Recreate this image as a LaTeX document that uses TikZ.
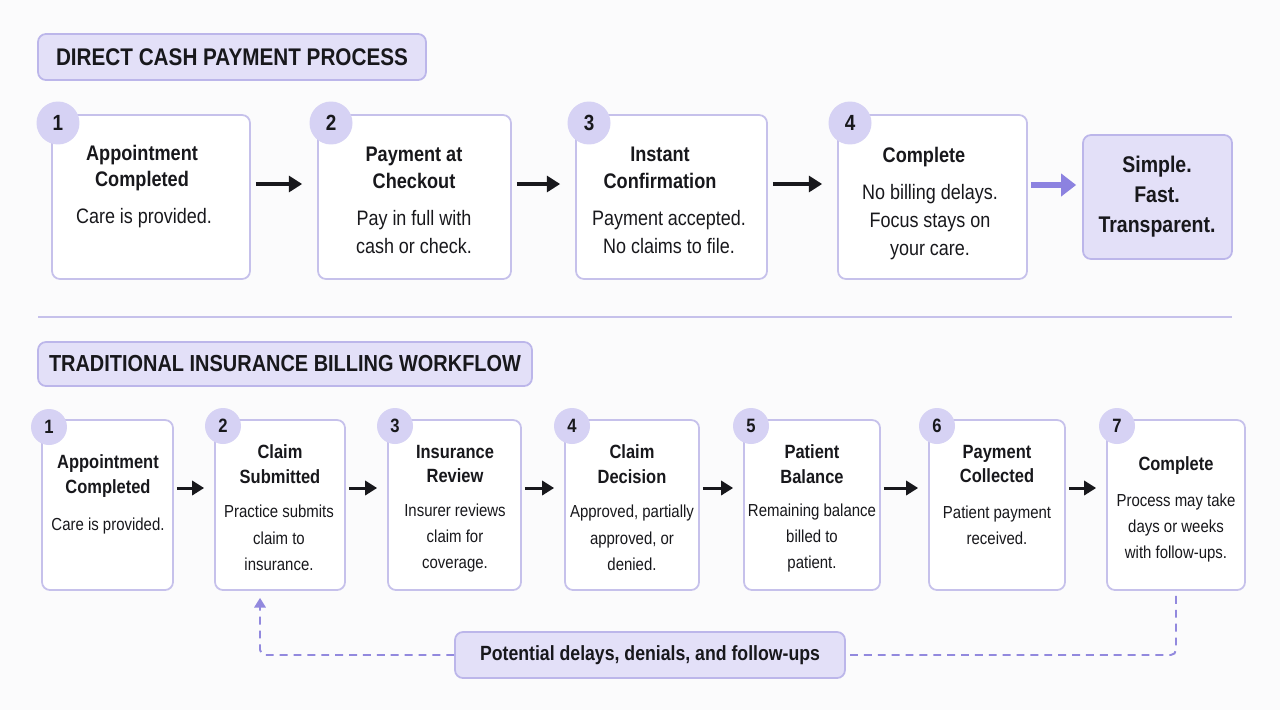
\documentclass[tikz,border=0pt]{standalone}
\usepackage{fontspec}
\setmainfont{Liberation Sans}[FakeStretch=0.86]
\usetikzlibrary{arrows.meta}
\definecolor{boxline}{RGB}{198,193,235}
\definecolor{numfill}{RGB}{214,210,244}
\definecolor{headfill}{RGB}{227,224,248}
\definecolor{headline}{RGB}{188,182,234}
\definecolor{accent}{RGB}{140,130,224}
\definecolor{dashcol}{RGB}{146,137,222}
\definecolor{inkcol}{RGB}{24,24,28}
\definecolor{bgcol}{RGB}{251,251,252}
\begin{document}
\begin{tikzpicture}[x=0.02cm,y=-0.02cm,
	every node/.style={text=inkcol,inner sep=0pt},
	stepbox/.style={draw=boxline,line width=1pt,fill=white,rounded corners=4.5pt},
	headbox/.style={draw=headline,line width=1pt,fill=headfill,rounded corners=4.5pt,
		font=\bfseries\fontsize{13.7}{16}\selectfont},
	bignum/.style={circle,fill=numfill,minimum size=0.86cm,font=\bfseries\fontsize{12.5}{14}\selectfont},
	smallnum/.style={circle,fill=numfill,minimum size=0.72cm,font=\bfseries\fontsize{11}{12}\selectfont},
	bigtitle/.style={align=center,font=\bfseries\fontsize{12}{15.3}\selectfont},
	bigbody/.style={align=center,font=\fontsize{11.9}{15.9}\selectfont},
	smalltitle/.style={align=center,font=\bfseries\fontsize{10.9}{14.2}\selectfont},
	smallbody/.style={align=center,font=\fontsize{9.9}{15}\selectfont},
	flowarrow/.style={draw=inkcol,line width=1.8pt,-{Triangle[length=7.5pt,width=9pt]}},
	smallarrow/.style={draw=inkcol,line width=1.7pt,-{Triangle[length=6.8pt,width=8pt]}},
	feedback/.style={draw=dashcol,line width=1.1pt,dash pattern=on 4.5pt off 3.4pt,rounded corners=3pt}
	]
	\fill[bgcol] (0,0) rectangle (1280,710);
	\useasboundingbox (0,0) rectangle (1280,710);

	\node[headbox,minimum width=7.76cm,minimum height=0.92cm] (cashhead) at (232,57) {DIRECT CASH PAYMENT PROCESS};

	\node[stepbox,minimum width=3.96cm,minimum height=3.28cm] (a1) at (151,197) {};
	\node[stepbox,minimum width=3.86cm,minimum height=3.28cm] (a2) at (414.5,197) {};
	\node[stepbox,minimum width=3.82cm,minimum height=3.28cm] (a3) at (671.5,197) {};
	\node[stepbox,minimum width=3.78cm,minimum height=3.28cm] (a4) at (932.5,197) {};
	\node[headbox,minimum width=2.98cm,minimum height=2.48cm] (simple) at (1157.5,197) {};

	\node[bignum] (n1) at (58,123) {1};
	\node[bignum] (n2) at (331,123) {2};
	\node[bignum] (n3) at (589,123) {3};
	\node[bignum] (n4) at (850,123) {4};

	\node[bigtitle] (a1t) at (142,168) {Appointment\\Completed};
	\node[bigbody] (a1b) at (144,218) {Care is provided.};
	\node[bigtitle] (a2t) at (414,168) {Payment at\\Checkout};
	\node[bigbody] (a2b) at (414,232) {Pay in full with\\cash or check.};
	\node[bigtitle] (a3t) at (660,168) {Instant\\Confirmation};
	\node[bigbody] (a3b) at (669,232) {Payment accepted.\\No claims to file.};
	\node[bigtitle] (a4t) at (924,157) {Complete};
	\node[bigbody] (a4b) at (930,222) {No billing delays.\\Focus stays on\\your care.};
	\node[align=center,font=\bfseries\fontsize{12.9}{17}\selectfont] (simplet) at (1157,197) {Simple.\\Fast.\\Transparent.};

	\path[flowarrow,shorten <=0.1cm,shorten >=0.3cm] ([yshift=0.26cm]a1.east) -- ([yshift=0.26cm]a2.west);
	\path[flowarrow,shorten <=0.1cm,shorten >=0.3cm] ([yshift=0.26cm]a2.east) -- ([yshift=0.26cm]a3.west);
	\path[flowarrow,shorten <=0.1cm,shorten >=0.3cm] ([yshift=0.26cm]a3.east) -- ([yshift=0.26cm]a4.west);
	\path[draw=accent,line width=3.2pt,-{Triangle[length=8.5pt,width=12.5pt]},shorten <=0.06cm,shorten >=0.12cm]
		([yshift=0.24cm]a4.east) -- ([yshift=0.24cm]simple.west);

	\path[draw=boxline,line width=0.9pt] (38,317) -- (1232,317);

	\node[headbox,minimum width=9.88cm,minimum height=0.88cm,font=\bfseries\fontsize{13.2}{16}\selectfont] (inshead) at (285,364) {TRADITIONAL INSURANCE BILLING WORKFLOW};

	\node[stepbox,minimum width=2.62cm,minimum height=3.4cm] (b1) at (107.5,505) {};
	\node[stepbox,minimum width=2.60cm,minimum height=3.4cm] (b2) at (280,505) {};
	\node[stepbox,minimum width=2.66cm,minimum height=3.4cm] (b3) at (454.5,505) {};
	\node[stepbox,minimum width=2.68cm,minimum height=3.4cm] (b4) at (632,505) {};
	\node[stepbox,minimum width=2.72cm,minimum height=3.4cm] (b5) at (812,505) {};
	\node[stepbox,minimum width=2.72cm,minimum height=3.4cm] (b6) at (997,505) {};
	\node[stepbox,minimum width=2.76cm,minimum height=3.4cm] (b7) at (1176,505) {};

	\node[smallnum] (m1) at (49,427) {1};
	\node[smallnum] (m2) at (223,426) {2};
	\node[smallnum] (m3) at (395,426) {3};
	\node[smallnum] (m4) at (572,426) {4};
	\node[smallnum] (m5) at (751,426) {5};
	\node[smallnum] (m6) at (937,426) {6};
	\node[smallnum] (m7) at (1117,426) {7};

	\node[smalltitle] (b1t) at (108,476) {Appointment\\Completed};
	\node[smallbody] (b1b) at (108,526) {Care is provided.};
	\node[smalltitle] (b2t) at (280,464) {Claim\\Submitted};
	\node[smallbody] (b2b) at (279,538) {Practice submits\\claim to\\insurance.};
	\node[smalltitle] (b3t) at (455,464) {Insurance\\Review};
	\node[smallbody] (b3b) at (455,538) {Insurer reviews\\claim for\\coverage.};
	\node[smalltitle] (b4t) at (632,464) {Claim\\Decision};
	\node[smallbody] (b4b) at (632,538) {Approved, partially\\approved, or\\denied.};
	\node[smalltitle] (b5t) at (812,464) {Patient\\Balance};
	\node[smallbody] (b5b) at (812,538) {Remaining balance\\billed to\\patient.};
	\node[smalltitle] (b6t) at (997,464) {Payment\\Collected};
	\node[smallbody] (b6b) at (997,525) {Patient payment\\received.};
	\node[smalltitle] (b7t) at (1176,466) {Complete};
	\node[smallbody] (b7b) at (1176,528) {Process may take\\days or weeks\\with follow-ups.};

	\path[smallarrow,shorten <=0.06cm,shorten >=0.2cm] ([yshift=0.34cm]b1.east) -- ([yshift=0.34cm]b2.west);
	\path[smallarrow,shorten <=0.06cm,shorten >=0.2cm] ([yshift=0.34cm]b2.east) -- ([yshift=0.34cm]b3.west);
	\path[smallarrow,shorten <=0.06cm,shorten >=0.2cm] ([yshift=0.34cm]b3.east) -- ([yshift=0.34cm]b4.west);
	\path[smallarrow,shorten <=0.06cm,shorten >=0.2cm] ([yshift=0.34cm]b4.east) -- ([yshift=0.34cm]b5.west);
	\path[smallarrow,shorten <=0.06cm,shorten >=0.2cm] ([yshift=0.34cm]b5.east) -- ([yshift=0.34cm]b6.west);
	\path[smallarrow,shorten <=0.06cm,shorten >=0.2cm] ([yshift=0.34cm]b6.east) -- ([yshift=0.34cm]b7.west);

	\node[headbox,minimum width=7.8cm,minimum height=0.92cm,font=\bfseries\fontsize{11.7}{14}\selectfont] (delays) at (650,655) {Potential delays, denials, and follow-ups};

	\path[feedback] ([yshift=-0.1cm]b7.south) |- (delays.east);
	\path[feedback,-{Triangle[length=5.5pt,width=6.5pt]}] (delays.west) -| ([xshift=-0.4cm,yshift=-0.14cm]b2.south);
\end{tikzpicture}
\end{document}
